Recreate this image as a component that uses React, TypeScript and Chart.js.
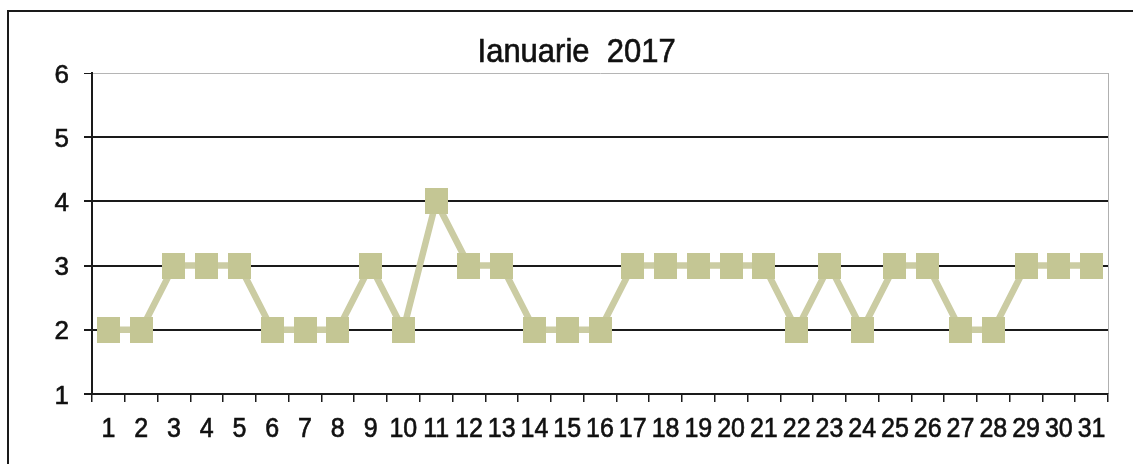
import React, { useEffect, useRef } from "react";
import { Chart, registerables } from "chart.js";

Chart.register(...registerables);

const days: string[] = [
  "1", "2", "3", "4", "5", "6", "7", "8", "9", "10",
  "11", "12", "13", "14", "15", "16", "17", "18", "19", "20",
  "21", "22", "23", "24", "25", "26", "27", "28", "29", "30", "31",
];
const values: number[] = [
  2, 2, 3, 3, 3, 2, 2, 2, 3, 2,
  4, 3, 3, 2, 2, 2, 3, 3, 3, 3,
  3, 2, 3, 2, 3, 3, 2, 2, 3, 3, 3,
];
const title = "Ianuarie  2017";
const yMin = 1;
const yMax = 6;

const FONT = "'Liberation Sans', Arimo, sans-serif";
const MARKER = "#c4c694";
const INK = "#111111";

function makeMarker(): HTMLCanvasElement {
  const c = document.createElement("canvas");
  c.width = 23;
  c.height = 26;
  const g = c.getContext("2d")!;
  g.fillStyle = MARKER;
  g.fillRect(0, 0, 23, 26);
  return c;
}

function drawText(ctx: CanvasRenderingContext2D, text: string, x: number, y: number, sy: number) {
  ctx.save();
  ctx.translate(x, y);
  ctx.scale(1, sy);
  ctx.fillText(text, 0, 0);
  ctx.strokeText(text, 0, 0);
  ctx.restore();
}

const framePlugin = {
  id: "frame",
  beforeDraw(chart: any) {
    const { ctx, chartArea } = chart;
    ctx.save();
    ctx.fillStyle = "#ffffff";
    ctx.fillRect(0, 0, chart.width, chart.height);
    ctx.strokeStyle = "#1a1a1a";
    ctx.lineWidth = 2;
    ctx.beginPath();
    ctx.moveTo(8, chart.height);
    ctx.lineTo(8, 11);
    ctx.lineTo(chart.width, 11);
    ctx.stroke();
    ctx.strokeStyle = "#b0b0b0";
    ctx.lineWidth = 1;
    ctx.beginPath();
    ctx.moveTo(chartArea.right + 0.5, chartArea.top);
    ctx.lineTo(chartArea.right + 0.5, chartArea.bottom);
    ctx.stroke();
    ctx.restore();
  },
  afterDraw(chart: any) {
    const { ctx, chartArea } = chart;
    const xs = chart.scales.x;
    const ys = chart.scales.y;
    ctx.save();
    ctx.fillStyle = INK;
    ctx.strokeStyle = INK;
    ctx.lineWidth = 0.6;
    ctx.textBaseline = "alphabetic";
    ctx.font = `31px ${FONT}`;
    ctx.textAlign = "center";
    const cx = chartArea.left + (chartArea.right - chartArea.left) * 0.477;
    drawText(ctx, title, cx, chartArea.top - 11, 1.1);
    ctx.font = `25px ${FONT}`;
    xs.ticks.forEach((t: any, i: number) => {
      drawText(ctx, String(xs.getLabelForValue(t.value)), xs.getPixelForTick(i), chartArea.bottom + 43, 1.12);
    });
    ctx.font = `26px ${FONT}`;
    ctx.textAlign = "right";
    ys.ticks.forEach((t: any, i: number) => {
      drawText(ctx, String(t.label), chartArea.left - 23, ys.getPixelForTick(i) + 9.5, 1.02);
    });
    ctx.restore();
  },
};

export default function App() {
  const ref = useRef<HTMLCanvasElement | null>(null);

  useEffect(() => {
    if (!ref.current) return;
    const marker = makeMarker();
    const chart = new Chart(ref.current, {
      type: "line",
      data: {
        labels: days,
        datasets: [
          {
            data: values,
            borderColor: "#cbcca3",
            borderWidth: 6.5,
            backgroundColor: MARKER,
            pointStyle: marker as any,
            pointRadius: 12,
            pointBorderWidth: 0,
            pointBackgroundColor: MARKER,
            tension: 0,
          },
        ],
      },
      options: {
        responsive: false,
        animation: false,
        events: [],
        layout: { padding: { top: 73, right: 25, left: 0, bottom: 0 } },
        plugins: {
          legend: { display: false },
          title: { display: false },
          tooltip: { enabled: false },
        },
        scales: {
          x: {
            offset: true,
            afterFit: (s: any) => {
              s.height = 70;
            },
            grid: {
              offset: true,
              drawOnChartArea: false,
              drawTicks: true,
              tickLength: 8,
              color: "#1a1a1a",
              lineWidth: 1.5,
            },
            border: { color: "#1a1a1a", width: 2 },
            ticks: {
              autoSkip: false,
              maxRotation: 0,
              minRotation: 0,
              color: "rgba(0,0,0,0)",
              padding: 12,
              font: { family: FONT, size: 23 },
            },
          },
          y: {
            min: yMin,
            max: yMax,
            afterFit: (s: any) => {
              s.width = 92;
            },
            grid: {
              color: (c: any) => (c.tick && c.tick.value === yMax ? "#b5b5b5" : "#1a1a1a"),
              lineWidth: (c: any) => (c.tick && c.tick.value === yMax ? 1 : 2),
              tickColor: "#1a1a1a",
              tickLength: 8,
              drawTicks: true,
            },
            border: { color: "#1a1a1a", width: 2 },
            ticks: {
              stepSize: 1,
              color: "rgba(0,0,0,0)",
              padding: 15,
              font: { family: FONT, size: 23 },
            },
          },
        },
      },
      plugins: [framePlugin],
    });
    return () => chart.destroy();
  }, []);

  return (
    <div style={{ position: "absolute", left: 0, top: 0, width: 1133, height: 464 }}>
      <canvas ref={ref} width={1133} height={464} />
    </div>
  );
}
